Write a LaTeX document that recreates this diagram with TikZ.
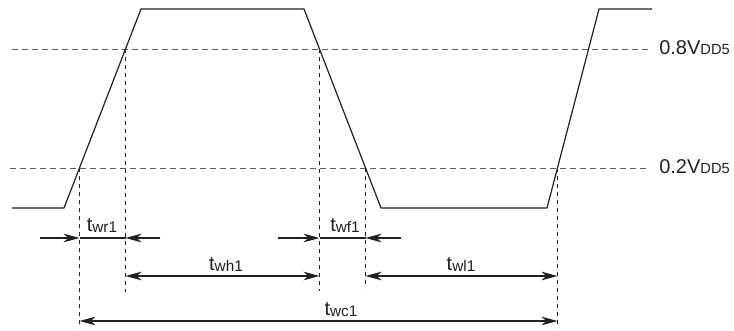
\documentclass[tikz,border=0pt]{standalone}
\usepackage{fontspec}
\setmainfont{Liberation Sans}
\usetikzlibrary{arrows.meta}

\definecolor{inkdark}{RGB}{35,31,32}
\definecolor{inkgray}{RGB}{95,95,95}

\newcommand{\tsub}[1]{t\raisebox{-1pt}{\fontsize{11.5}{13}\selectfont #1}}
\newcommand{\vdd}[1]{#1V{\fontsize{11}{13}\selectfont DD5}}

\tikzset{
  wave/.style={line width=0.9pt, color=inkdark},
  level/.style={dash pattern=on 4.5pt off 3pt, line width=0.7pt, color=inkgray},
  guide/.style={dash pattern=on 3pt off 3pt, line width=0.7pt, color=inkdark},
  dimline/.style={line width=1pt, color=inkdark, -{Stealth[length=12pt,width=6.5pt,inset=3.5pt]}},
  dimboth/.style={line width=1pt, color=inkdark, {Stealth[length=12pt,width=6.5pt,inset=3.5pt]}-{Stealth[length=12pt,width=6.5pt,inset=3.5pt]}},
  lbl/.style={inner sep=0pt, anchor=base, text=inkdark, font=\fontsize{15}{17}\selectfont},
}

\begin{document}
\begin{tikzpicture}[x=0.75pt,y=0.75pt,yscale=-1,xscale=1]
\useasboundingbox (0,0) rectangle (734,331);

%Shape: Levels
\draw [level] (12,49) -- (650,49) ;
\draw [level] (10,168) -- (650,168) ;

%Shape: Waveform
\draw [wave] (12,208) -- (64,208) -- (141,9) -- (304,9) -- (381,208) -- (547,208) -- (599,9) -- (652,9) ;

% crossing points
\coordinate (r1lo) at (79.5,168);
\coordinate (r1hi) at (125.5,49);
\coordinate (f1hi) at (319.5,49);
\coordinate (f1lo) at (365.5,168);
\coordinate (r2lo) at (557.5,168);

%Shape: Guides
\draw [guide] (r1lo) -- ++(0,160) ;
\draw [guide] (r1hi) -- ++(0,243) ;
\draw [guide] (f1hi) -- ++(0,242) ;
\draw [guide] (f1lo) -- ++(0,120) ;
\draw [guide] (r2lo) -- ++(0,160) ;

% rows
\coordinate (wrL) at (40,238);
\coordinate (wrR) at (160,238);
\coordinate (wfL) at (278,238);
\coordinate (wfR) at (401,238);
\coordinate (whrow) at (0,276);
\coordinate (wcrow) at (0,321);

%Shape: Rise time
\draw [dimline] (wrL) -- (r1lo |- wrL) ;
\draw [line width=1pt, color=inkdark] (r1lo |- wrL) -- (r1hi |- wrL) ;
\draw [dimline] (wrR) -- (r1hi |- wrL) ;

%Shape: Fall time
\draw [dimline] (wfL) -- (f1hi |- wfL) ;
\draw [line width=1pt, color=inkdark] (f1hi |- wfL) -- (f1lo |- wfL) ;
\draw [dimline] (wfR) -- (f1lo |- wfL) ;

%Shape: High, low, cycle
\draw [dimboth] (r1hi |- whrow) -- (f1hi |- whrow) ;
\draw [dimboth] (f1lo |- whrow) -- (r2lo |- whrow) ;
\draw [dimboth] (r1lo |- wcrow) -- (r2lo |- wcrow) ;

% Text Node
\node (hi) [lbl, anchor=base west] at (659,55) {\vdd{0.8}};
% Text Node
\node (lo) [lbl, anchor=base west] at (659,174) {\vdd{0.2}};
% Text Node
\node (twr) [lbl] at (102,231) {\tsub{wr1}};
% Text Node
\node (twf) [lbl] at (345,231) {\tsub{wf1}};
% Text Node
\node (twh) [lbl] at (226,270) {\tsub{wh1}};
% Text Node
\node (twl) [lbl] at (461,270) {\tsub{wl1}};
% Text Node
\node (twc) [lbl] at (341,315) {\tsub{wc1}};

\end{tikzpicture}
\end{document}
